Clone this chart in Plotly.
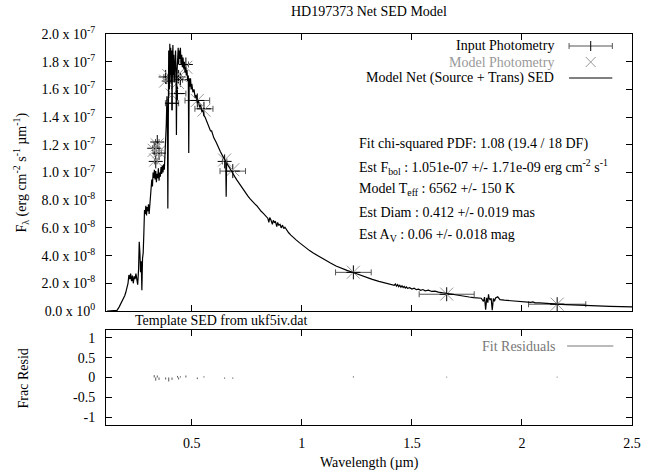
import plotly.graph_objects as go

# ---------------- data ----------------
# Model net SED (wavelength in micron, flux in 1e-7 erg cm^-2 s^-1 um^-1)
sed_wl = [0.115, 0.150, 0.160, 0.170, 0.180, 0.190, 0.195, 0.200, 0.205, 0.210,
          0.214, 0.218, 0.222, 0.226, 0.230, 0.234, 0.238, 0.242, 0.246, 0.250,
          0.254, 0.258, 0.261, 0.264, 0.267, 0.270, 0.273, 0.276, 0.279, 0.282,
          0.285, 0.288, 0.291, 0.294, 0.297, 0.300, 0.303, 0.306, 0.309, 0.312,
          0.315, 0.318, 0.321, 0.324, 0.327, 0.330, 0.333, 0.336, 0.339, 0.342,
          0.345, 0.348, 0.351, 0.354, 0.357, 0.360, 0.363, 0.366, 0.369, 0.372,
          0.375, 0.378, 0.381, 0.384, 0.387, 0.389, 0.391, 0.393, 0.395, 0.398,
          0.400, 0.402, 0.404, 0.406, 0.408, 0.410, 0.412, 0.414, 0.416, 0.418,
          0.420, 0.422, 0.424, 0.426, 0.428, 0.430, 0.432, 0.434, 0.436, 0.438,
          0.440, 0.442, 0.445, 0.448, 0.451, 0.454, 0.457, 0.460, 0.463, 0.466,
          0.469, 0.472, 0.475, 0.478, 0.481, 0.484, 0.486, 0.488, 0.491, 0.494,
          0.497, 0.500, 0.505, 0.510, 0.515, 0.520, 0.525, 0.530, 0.535, 0.540,
          0.545, 0.550, 0.555, 0.560, 0.565, 0.570, 0.575, 0.580, 0.585, 0.590,
          0.600, 0.610, 0.620, 0.630, 0.640, 0.650, 0.654, 0.656, 0.658, 0.665,
          0.675, 0.685, 0.695, 0.705, 0.715, 0.725, 0.735, 0.745, 0.755, 0.765,
          0.775, 0.785, 0.795, 0.805, 0.815, 0.825, 0.835, 0.845, 0.850, 0.854,
          0.860, 0.866, 0.870, 0.875, 0.880, 0.886, 0.890, 0.895, 0.901, 0.906,
          0.912, 0.918, 0.923, 0.930, 0.940, 0.950, 0.960, 0.975, 0.990, 1.005,
          1.020, 1.035, 1.050, 1.070, 1.090, 1.110, 1.130, 1.155, 1.180, 1.205,
          1.230, 1.260, 1.290, 1.320, 1.350, 1.380, 1.410, 1.420, 1.425, 1.430,
          1.435, 1.440, 1.445, 1.450, 1.455, 1.460, 1.465, 1.470, 1.475, 1.480,
          1.490, 1.500, 1.510, 1.520, 1.530, 1.540, 1.550, 1.560, 1.575, 1.590,
          1.605, 1.620, 1.640, 1.660, 1.680, 1.700, 1.720, 1.740, 1.760, 1.780,
          1.800, 1.815, 1.825, 1.830, 1.835, 1.840, 1.845, 1.848, 1.850, 1.855,
          1.860, 1.865, 1.870, 1.875, 1.880, 1.890, 1.900, 1.920, 1.950, 1.980,
          2.000, 2.020, 2.040, 2.050, 2.060, 2.080, 2.100, 2.130, 2.160, 2.200,
          2.250, 2.300, 2.350, 2.400, 2.450, 2.500]
sed_flux = [0.000, 0.000, 0.005, 0.030, 0.060, 0.090, 0.110, 0.135, 0.160, 0.200,
            0.260, 0.230, 0.270, 0.215, 0.255, 0.200, 0.250, 0.230, 0.270, 0.240,
            0.190, 0.300, 0.500, 0.420, 0.280, 0.360, 0.150, 0.380, 0.420, 0.560,
            0.730, 0.700, 0.760, 0.690, 0.750, 0.720, 0.770, 0.700, 0.760, 0.800,
            0.900, 0.950, 0.900, 1.000, 0.960, 1.020, 0.950, 1.010, 0.930, 0.990,
            0.960, 1.030, 0.940, 1.000, 0.970, 1.040, 0.990, 1.050, 1.000, 1.060,
            1.020, 1.100, 1.230, 1.350, 1.550, 1.400, 0.740, 1.500, 1.880, 1.600,
            1.930, 1.700, 1.900, 1.650, 1.880, 1.450, 1.800, 1.920, 1.700, 1.850,
            1.650, 1.800, 1.700, 1.880, 1.750, 1.270, 1.700, 1.820, 1.750, 1.900,
            1.780, 1.880, 1.820, 1.900, 1.780, 1.850, 1.760, 1.830, 1.750, 1.800,
            1.720, 1.760, 1.700, 1.740, 1.660, 1.700, 1.140, 1.680, 1.620, 1.680,
            1.600, 1.640, 1.580, 1.600, 1.540, 1.560, 1.500, 1.520, 1.470, 1.490,
            1.440, 1.450, 1.410, 1.400, 1.380, 1.370, 1.340, 1.330, 1.300, 1.300,
            1.250, 1.220, 1.180, 1.150, 1.120, 1.090, 1.080, 0.825, 1.070, 1.050,
            1.020, 0.990, 0.970, 0.945, 0.920, 0.895, 0.870, 0.850, 0.830, 0.810,
            0.790, 0.775, 0.760, 0.735, 0.720, 0.705, 0.690, 0.670, 0.640, 0.675,
            0.655, 0.625, 0.655, 0.640, 0.645, 0.610, 0.640, 0.620, 0.625, 0.600,
            0.620, 0.595, 0.605, 0.585, 0.565, 0.548, 0.532, 0.512, 0.492, 0.472,
            0.453, 0.436, 0.420, 0.400, 0.381, 0.363, 0.346, 0.325, 0.308, 0.293,
            0.280, 0.262, 0.245, 0.228, 0.214, 0.201, 0.190, 0.186, 0.195, 0.180,
            0.190, 0.176, 0.186, 0.172, 0.182, 0.170, 0.178, 0.166, 0.174, 0.163,
            0.168, 0.158, 0.164, 0.154, 0.158, 0.150, 0.155, 0.146, 0.150, 0.141,
            0.144, 0.136, 0.132, 0.126, 0.121, 0.116, 0.111, 0.106, 0.101, 0.097,
            0.094, 0.092, 0.070, 0.100, 0.010, 0.095, 0.060, 0.120, 0.098, 0.080,
            0.092, 0.005, 0.090, 0.070, 0.094, 0.102, 0.082, 0.078, 0.074, 0.070,
            0.067, 0.064, 0.062, 0.066, 0.059, 0.058, 0.055, 0.052, 0.049, 0.046,
            0.042, 0.039, 0.036, 0.034, 0.032, 0.030]

# Photometry (wavelength um, flux 1e-7, wavelength half-width um)
phot_wl = [0.329, 0.336, 0.343, 0.351, 0.381, 0.395, 0.410, 0.435, 0.440,
           0.448, 0.473, 0.525, 0.555, 0.649, 0.686, 1.234, 1.658, 2.160]
phot_flux = [1.175, 1.080, 1.220, 1.140, 1.690, 1.660, 1.500, 1.570, 1.690,
             1.670, 1.780, 1.520, 1.460, 1.080, 1.010, 0.279, 0.121, 0.049]
phot_err = [0.008, 0.006, 0.008, 0.010, 0.008, 0.010, 0.030, 0.038, 0.012,
            0.010, 0.012, 0.056, 0.041, 0.010, 0.058, 0.081, 0.125, 0.130]
model_flux = [1.160, 1.090, 1.200, 1.150, 1.660, 1.700, 1.560, 1.650, 1.710,
              1.700, 1.760, 1.520, 1.450, 1.090, 1.020, 0.280, 0.122, 0.049]
# fractional fit residuals
fit_resid = [0.06, -0.08, 0.05, -0.06, -0.05, -0.10, -0.06, 0.04, -0.05,
             0.03, 0.05, -0.04, 0.03, -0.03, -0.03, 0.03, 0.02, 0.02]

y_tickvals = [0.0, 0.2, 0.4, 0.6, 0.8, 1.0, 1.2, 1.4, 1.6, 1.8, 2.0]
y_ticktext = ["0.0 x 10<sup>0</sup>", "2.0 x 10<sup>-8</sup>", "4.0 x 10<sup>-8</sup>",
              "6.0 x 10<sup>-8</sup>", "8.0 x 10<sup>-8</sup>", "1.0 x 10<sup>-7</sup>",
              "1.2 x 10<sup>-7</sup>", "1.4 x 10<sup>-7</sup>", "1.6 x 10<sup>-7</sup>",
              "1.8 x 10<sup>-7</sup>", "2.0 x 10<sup>-7</sup>"]
x_tickvals = [0.5, 1.0, 1.5, 2.0, 2.5]
x_ticktext = ["0.5", "1", "1.5", "2", "2.5"]
r_tickvals = [-1, -0.5, 0, 0.5, 1]
r_ticktext = ["-1", "-0.5", "0", "0.5", "1"]

stats_lines = [
    "Fit chi-squared PDF: 1.08 (19.4 / 18 DF)",
    "Est F<sub>bol</sub> : 1.051e-07 +/- 1.71e-09 erg cm<sup>-2</sup> s<sup>-1</sup>",
    "Model T<sub>eff</sub> : 6562 +/- 150 K",
    "Est Diam : 0.412 +/- 0.019 mas",
    "Est A<sub>V</sub> : 0.06 +/- 0.018 mag",
]

# ---------------- figure ----------------
FONT = "Liberation Serif, Times New Roman, Times, serif"
FS = 14
W, H = 652, 476
L, R, T, B = 106, 641, 34, 425
MAIN_BOTTOM = 311
RES_TOP = 330


def px(x):
    return (x - L) / (R - L)


def py(y):
    return (B - y) / (B - T)


scale = 1e-7
fig = go.Figure()

fig.add_trace(go.Scatter(
    x=phot_wl, y=[v * scale for v in phot_flux], mode="markers",
    marker=dict(symbol="cross-thin", size=10, line=dict(color="black", width=1)),
    error_x=dict(type="data", array=phot_err, color="#555555", thickness=1, width=3),
    xaxis="x", yaxis="y", showlegend=False))

fig.add_trace(go.Scatter(
    x=phot_wl, y=[v * scale for v in model_flux], mode="markers",
    marker=dict(symbol="x-thin", size=13, line=dict(color="#999999", width=1)),
    xaxis="x", yaxis="y", showlegend=False))

fig.add_trace(go.Scatter(
    x=sed_wl, y=[v * scale for v in sed_flux], mode="lines",
    line=dict(color="black", width=1.2),
    xaxis="x", yaxis="y", showlegend=False))

# residual impulses
res_x, res_y = [], []
for w, r in zip(phot_wl, fit_resid):
    res_x += [w, w, None]
    res_y += [0, r, None]
fig.add_trace(go.Scatter(
    x=res_x, y=res_y, mode="lines", line=dict(color="#555555", width=1),
    xaxis="x2", yaxis="y2", showlegend=False))

axis_common = dict(showline=True, linecolor="black", linewidth=1, mirror="allticks",
                   ticks="inside", ticklen=6, tickcolor="black", tickwidth=1,
                   showgrid=False, zeroline=False,
                   tickfont=dict(family=FONT, size=FS, color="black"))

main_dom = [py(MAIN_BOTTOM), 1.0]
res_dom = [0.0, py(RES_TOP)]

fig.update_layout(
    width=W, height=H,
    margin=dict(l=L, r=W - R, t=T, b=H - B, pad=0),
    paper_bgcolor="white", plot_bgcolor="white",
    font=dict(family=FONT, size=FS, color="black"),
    xaxis=dict(domain=[0, 1], range=[0.11, 2.5], anchor="y", tickvals=x_tickvals[:-1],
               showticklabels=False, **axis_common),
    yaxis=dict(domain=main_dom, range=[0, 2.0e-7], anchor="x",
               tickvals=[v * scale for v in y_tickvals], ticktext=y_ticktext,
               ticklabelstandoff=7, **axis_common),
    xaxis2=dict(domain=[0, 1], range=[0.11, 2.5], anchor="y2", tickvals=x_tickvals,
                ticktext=x_ticktext, ticklabelstandoff=5, **axis_common),
    yaxis2=dict(domain=res_dom, range=[-1.2, 1.2], anchor="x2",
                tickvals=r_tickvals, ticktext=r_ticktext, ticklabelstandoff=7,
                **axis_common),
)

ann = []


def add_text(x, y, text, xanchor="center", size=FS, color="black", angle=0):
    ann.append(dict(x=px(x), y=py(y), xref="paper", yref="paper", text=text,
                    showarrow=False, xanchor=xanchor, yanchor="middle",
                    textangle=angle, font=dict(family=FONT, size=size, color=color)))


add_text(374, 12, "HD197373 Net SED Model")
add_text(20, 172, "F<sub>λ</sub> (erg cm<sup>-2</sup> s<sup>-1</sup> µm<sup>-1</sup>)", angle=-90)
add_text(22, 378, "Frac Resid", angle=-90)
add_text(374, 463, "Wavelength (µm)")
add_text(133, 320, "Template SED from ukf5iv.dat", xanchor="left")

for i, line in enumerate(stats_lines):
    add_text(361, 144 + i * 22.8, line, xanchor="left")

add_text(564, 46, "Input Photometry", xanchor="right")
add_text(564, 62, "Model Photometry", xanchor="right", color="#999999")
add_text(564, 78, "Model Net (Source + Trans) SED", xanchor="right")
add_text(566, 346, "Fit Residuals", xanchor="right", color="#777777")
fig.update_layout(annotations=ann)

shapes = []


def seg(x0, y0, x1, y1, color="black"):
    shapes.append(dict(type="line", xref="paper", yref="paper",
                       x0=px(x0), y0=py(y0), x1=px(x1), y1=py(y1),
                       line=dict(color=color, width=1)))


# legend samples
seg(577, 46, 621, 46, "#555555")
seg(577, 43, 577, 49, "#555555")
seg(621, 43, 621, 49, "#555555")
seg(599, 41, 599, 51)
seg(594, 57, 604, 67, "#999999")
seg(594, 67, 604, 57, "#999999")
seg(577, 78, 621, 78)
seg(575, 346, 622, 346, "#777777")
fig.update_layout(shapes=shapes)

fig.write_html("out.html")
